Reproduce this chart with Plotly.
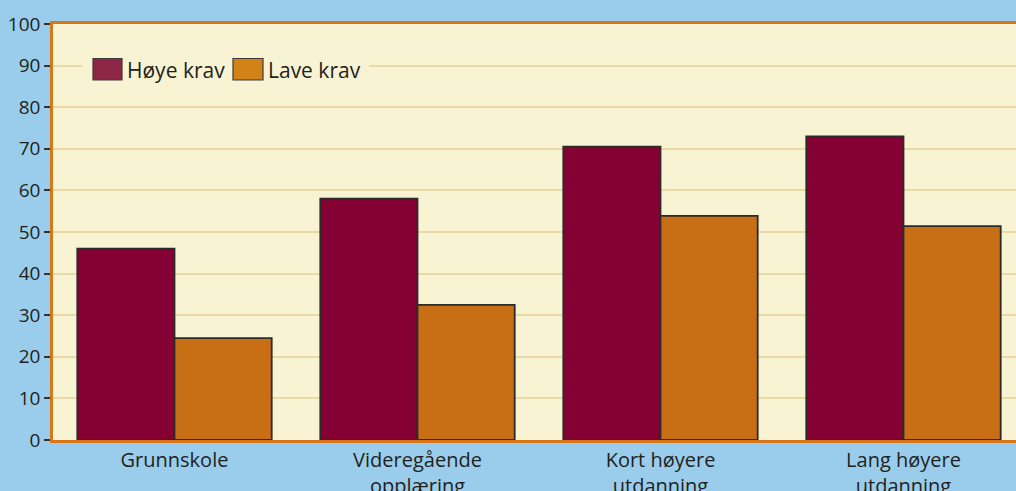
import plotly.graph_objects as go

categories = ["Grunnskole", "Videregående<br>opplæring", "Kort høyere<br>utdanning", "Lang høyere<br>utdanning"]
hoye_krav = [46, 58, 70.5, 73]
lave_krav = [24.5, 32.5, 53.9, 51.4]
series_names = ["Høye krav", "Lave krav"]
y_ticks = [0, 10, 20, 30, 40, 50, 60, 70, 80, 90, 100]

PAGE_BG = "#9ACDEB"
PLOT_BG = "#F8F3D2"
GRID = "#E8DAA6"
ORANGE = "#D8761A"
TEXT = "#231F20"
C_HOYE = "#850033"
C_LAVE = "#C86E14"
LEG_HOYE = "#8E2747"
LEG_LAVE = "#D28318"
OUTLINE = "#2B2B2B"

fig = go.Figure()
fig.add_trace(go.Bar(x=categories, y=hoye_krav, name=series_names[0],
                     marker=dict(color=C_HOYE, line=dict(color=OUTLINE, width=1.8))))
fig.add_trace(go.Bar(x=categories, y=lave_krav, name=series_names[1],
                     marker=dict(color=C_LAVE, line=dict(color=OUTLINE, width=1.8))))

font_family = "Open Sans, Noto Sans, sans-serif"

fig.update_layout(
    width=1016, height=491,
    autosize=False,
    margin=dict(l=53, r=0, t=24, b=51, autoexpand=False),
    paper_bgcolor=PAGE_BG,
    plot_bgcolor=PLOT_BG,
    barmode="group",
    bargap=0.2,
    bargroupgap=0,
    showlegend=False,
    font=dict(family=font_family, size=20, color=TEXT),
    xaxis=dict(
        range=[-0.5, 3.463],
        automargin=False,
        showline=True, linecolor=ORANGE, linewidth=2.5, mirror=True,
        ticks="",
        showgrid=False,
        tickfont=dict(size=20, color=TEXT),
    ),
    yaxis=dict(
        range=[0, 100],
        automargin=False,
        tickvals=y_ticks,
        showline=True, linecolor=ORANGE, linewidth=2.5,
        ticks="outside", ticklen=6, tickwidth=2, tickcolor="#333333",
        showgrid=True, gridcolor=GRID, gridwidth=1.5,
        zeroline=False,
        tickfont=dict(size=19, color=TEXT),
    ),
)

def px_x(px):
    return (px - 53) / 963

def px_y(py):
    return (440 - py) / 416

# Legend background box (hides gridline behind legend)
fig.add_shape(type="rect", xref="paper", yref="paper",
              x0=px_x(82), x1=px_x(369), y0=px_y(92), y1=px_y(48),
              fillcolor=PLOT_BG, line=dict(width=0), layer="above")

legend_items = [
    (series_names[0], LEG_HOYE, 93, 122, 125),
    (series_names[1], LEG_LAVE, 233, 263, 266),
]
for name, col, sx0, sx1, tx in legend_items:
    fig.add_shape(type="rect", xref="paper", yref="paper",
                  x0=px_x(sx0), x1=px_x(sx1), y0=px_y(80), y1=px_y(58.5),
                  fillcolor=col, line=dict(color="#3a3a3a", width=1.2), layer="above")
    fig.add_annotation(xref="paper", yref="paper", x=px_x(tx), y=px_y(69.5),
                       text=name, showarrow=False, xanchor="left", yanchor="middle",
                       font=dict(size=21, color=TEXT, family=font_family))

post = ("document.documentElement.style.margin='0';"
        "document.body.style.margin='0';document.body.style.padding='0';"
        "document.body.style.overflow='hidden';"
        "document.documentElement.style.overflow='hidden';"
        "document.body.style.background='" + PAGE_BG + "';")

fig.write_html("out.html", post_script=post, config={"displayModeBar": False})
